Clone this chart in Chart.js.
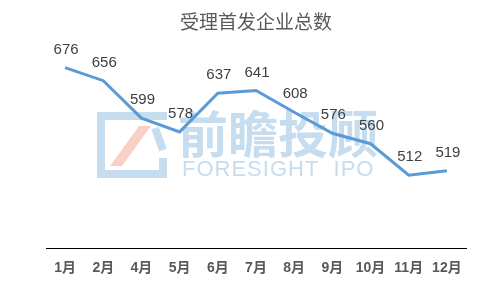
<!DOCTYPE html>
<html>
<head>
<meta charset="utf-8">
<script src="https://cdn.jsdelivr.net/npm/chart.js@4.4.1/dist/chart.umd.min.js"></script>
<style>
  html, body { margin: 0; padding: 0; background: #fff; }
  #wrap { width: 480px; height: 288px; }
</style>
</head>
<body>
<div id="wrap"><canvas id="myChart" width="480" height="288"></canvas></div>
<script>
const months = ['1月', '2月', '4月', '5月', '6月', '7月', '8月', '9月', '10月', '11月', '12月'];
const totals = [676, 656, 599, 578, 637, 641, 608, 576, 560, 512, 519];
const chartTitle = '受理首发企业总数';

// faint logo behind the line
const watermark = {
    id: 'watermark',
    beforeDatasetsDraw(chart) {
        const ctx = chart.ctx;
        ctx.save();
        ctx.strokeStyle = '#c6dcef';
        ctx.lineWidth = 8;
        ctx.beginPath();
        ctx.moveTo(163, 120);
        ctx.lineTo(163, 116);
        ctx.lineTo(101, 116);
        ctx.lineTo(101, 174);
        ctx.lineTo(163, 174);
        ctx.lineTo(163, 158);
        ctx.stroke();
        ctx.beginPath();
        ctx.moveTo(155, 128);
        ctx.lineTo(163, 150);
        ctx.stroke();
        ctx.fillStyle = '#f9d0c6';
        ctx.beginPath();
        ctx.moveTo(139, 126);
        ctx.lineTo(151, 126);
        ctx.lineTo(122, 166);
        ctx.lineTo(110, 166);
        ctx.closePath();
        ctx.fill();
        ctx.fillStyle = '#c6dcef';
        ctx.textBaseline = 'middle';
        ctx.textAlign = 'left';
        ctx.font = 'bold 50px "Noto Sans CJK SC"';
        ctx.fillText('前瞻投顾', 178, 134);
        ctx.font = '22px "Liberation Sans"';
        ctx.letterSpacing = '1px';
        ctx.fillText('FORESIGHT  IPO', 182, 170);
        ctx.restore();
    }
};

// value labels above each point
const valueLabels = {
    id: 'valueLabels',
    afterDatasetsDraw(chart) {
        const ctx = chart.ctx;
        const meta = chart.getDatasetMeta(0);
        ctx.save();
        ctx.fillStyle = '#404040';
        ctx.font = '15px "Liberation Sans"';
        ctx.textAlign = 'center';
        ctx.textBaseline = 'middle';
        meta.data.forEach((pt, i) => {
            ctx.fillText(String(totals[i]), pt.x + 1, pt.y - 18);
        });
        ctx.restore();
    }
};

const config = {
    type: 'line',
    data: {
        labels: months,
        datasets: [{
            label: chartTitle,
            data: totals,
            borderColor: '#5b9bd5',
            borderWidth: 3,
            pointRadius: 0,
            tension: 0,
            fill: false
        }]
    },
    options: {
        responsive: false,
        animation: false,
        layout: { padding: { left: 46, right: 14, top: 0, bottom: 0 } },
        scales: {
            x: {
                offset: true,
                grid: { display: false, drawTicks: false },
                border: { display: true, color: '#000000', width: 1 },
                ticks: {
                    padding: 14,
                    color: '#595959',
                    font: { size: 14, weight: 'bold', family: '"Liberation Sans", "Noto Sans CJK SC"', lineHeight: 0.8 },
                    maxRotation: 0,
                    autoSkip: false
                }
            },
            y: {
                display: false,
                min: 400,
                max: 700
            }
        },
        plugins: {
            legend: { display: false },
            tooltip: { enabled: false },
            title: {
                display: true,
                text: chartTitle,
                color: '#595959',
                font: { size: 19, weight: 'normal', family: '"Noto Sans CJK SC"', lineHeight: 1.2 },
                padding: { top: 10, bottom: 19 }
            }
        }
    },
    plugins: [watermark, valueLabels]
};

new Chart(document.getElementById('myChart'), config);
</script>
</body>
</html>
